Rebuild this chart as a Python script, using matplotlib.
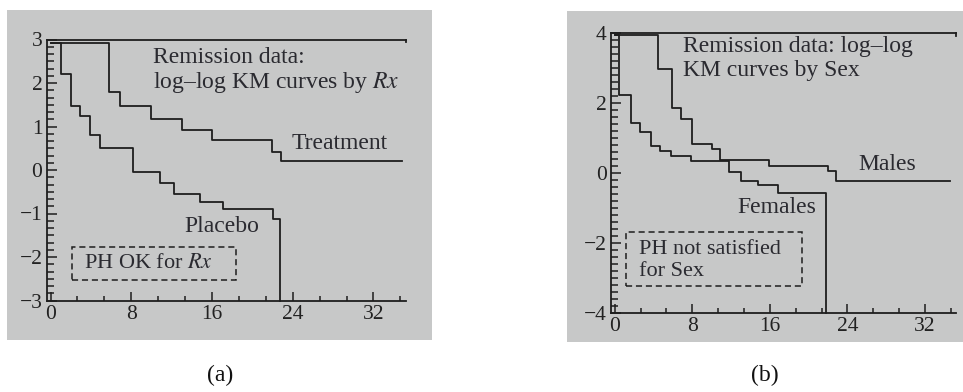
import matplotlib
matplotlib.use("Agg")
import matplotlib.pyplot as plt
from matplotlib.patches import Rectangle
from matplotlib.ticker import MultipleLocator
import numpy as np

plt.rcParams['font.family'] = ['Liberation Serif', 'DejaVu Serif']
plt.rcParams['mathtext.fontset'] = 'stix'

# ---------------- data ----------------
# panel (a): log-log KM curves by Rx
treat_t = [0, 5.8, 6.9, 10.0, 13.0, 16.0, 21.9, 22.8, 34.8]
treat_y = [2.93, 1.79, 1.46, 1.17, 0.92, 0.69, 0.42, 0.21, 0.21]
plac_t = [0, 1.0, 2.0, 2.95, 3.9, 4.9, 8.2, 10.8, 12.2, 14.8, 17.1, 22.0, 22.7]
plac_y = [2.93, 2.2, 1.46, 1.23, 0.80, 0.50, -0.05, -0.31, -0.55, -0.73, -0.90, -1.13, -3.0]

# panel (b): log-log KM curves by Sex
male_t = [0, 4.5, 5.9, 6.8, 8.0, 10.0, 10.9, 15.9, 22.0, 22.8, 34.6]
male_y = [3.95, 2.99, 1.87, 1.56, 0.85, 0.69, 0.38, 0.21, 0.08, -0.22, -0.22]
fem_t = [0, 0.45, 1.65, 2.6, 3.7, 4.7, 5.8, 7.9, 11.8, 13.0, 14.8, 16.8, 21.8]
fem_y = [3.95, 2.23, 1.45, 1.19, 0.78, 0.65, 0.49, 0.36, 0.03, -0.22, -0.33, -0.55, -4.0]

x_ticks = [0, 8, 16, 24, 32]
ya_ticks = [-3, -2, -1, 0, 1, 2, 3]
yb_ticks = [-4, -2, 0, 2, 4]

# ---------------- figure ----------------
W, H = 963, 392
fig = plt.figure(figsize=(W / 100, H / 100), dpi=100)
fig.patch.set_facecolor('white')

BG = '#c7c8c8'
INK = '#1e1e1e'


def px_rect(x0, y0, x1, y1):
    return [x0 / W, 1 - y1 / H, (x1 - x0) / W, (y1 - y0) / H]


# gray panel backgrounds on a background axes
bg = fig.add_axes([0, 0, 1, 1], zorder=-5)
bg.set_xlim(0, W)
bg.set_ylim(H, 0)
bg.axis('off')
for (x0, y0, x1, y1) in [(7, 10, 432, 340), (567, 11, 963, 342)]:
    bg.add_patch(Rectangle((x0, y0), x1 - x0, y1 - y0, facecolor=BG, edgecolor='none'))

axA = fig.add_axes(px_rect(46.5, 39.5, 405.7, 300.5), zorder=2)
axB = fig.add_axes(px_rect(610.8, 33.3, 956.0, 313.3), zorder=2)

LW = 1.3
for ax in (axA, axB):
    ax.set_facecolor('none')
    ax.set_xlim(-0.4, 35.2)
    ax.spines['right'].set_visible(False)
    for s in ('left', 'bottom', 'top'):
        ax.spines[s].set_linewidth(LW)
        ax.spines[s].set_color(INK)
    ax.xaxis.set_major_locator(MultipleLocator(8))
    ax.xaxis.set_minor_locator(MultipleLocator(8 / 3))
    ax.set_xticks(x_ticks)
    ax.tick_params(axis='both', which='both', direction='in', color=INK,
                   width=1.1, labelcolor='#222222', labelsize=15.5,
                   top=False, right=False)
    ax.tick_params(axis='x', which='major', length=6.5, pad=3)
    ax.tick_params(axis='x', which='minor', length=3.3)
    ax.tick_params(axis='y', which='major', length=7.5, pad=3)
    ax.tick_params(axis='y', which='minor', length=5)
    # small end mark on the top frame line
    ax.plot([1, 1], [1, 0.99], transform=ax.transAxes, color=INK, lw=LW, clip_on=False)

axA.set_ylim(-3, 3)
axA.set_yticks(ya_ticks)
axA.yaxis.set_minor_locator(MultipleLocator(1 / 6))
axB.set_ylim(-4, 4)
axB.set_yticks(yb_ticks)
axB.yaxis.set_minor_locator(MultipleLocator(0.2))

# curves
axA.step(treat_t, treat_y, where='post', color=INK, lw=LW, clip_on=False)
axA.step(plac_t, plac_y, where='post', color=INK, lw=LW, clip_on=False)
axB.step(male_t, male_y, where='post', color=INK, lw=LW, clip_on=False)
axB.step(fem_t, fem_y, where='post', color=INK, lw=LW, clip_on=False)

FS = 17
TC = '#2a2a30'
# panel (a) texts
axA.text(10.2, 2.575, 'Remission data:', fontsize=FS, color=TC, va='center', ha='left')
axA.text(10.2, 2.02, 'log–log KM curves by $Rx$', fontsize=FS, color=TC, va='center', ha='left')
axA.text(23.9, 0.61, 'Treatment', fontsize=FS, color=TC, va='center', ha='left')
axA.text(13.3, -1.30, 'Placebo', fontsize=FS, color=TC, va='center', ha='left')
axA.add_patch(Rectangle((2.13, -2.53), 18.4 - 2.13, 2.53 - 1.76, fill=False,
                        ls=(0, (4, 2.5)), lw=1.1, edgecolor=INK))
axA.text(3.28, -2.14, 'PH OK for $Rx$', fontsize=FS - 1, color=TC, va='center', ha='left')

# panel (b) texts
axB.text(7.0, 3.62, 'Remission data: log–log', fontsize=FS, color=TC, va='center', ha='left')
axB.text(7.0, 2.95, 'KM curves by Sex', fontsize=FS, color=TC, va='center', ha='left')
axB.text(25.1, 0.24, 'Males', fontsize=FS, color=TC, va='center', ha='left')
axB.text(12.64, -0.97, 'Females', fontsize=FS, color=TC, va='center', ha='left')
axB.add_patch(Rectangle((1.16, -3.22), 19.28 - 1.16, 3.22 - 1.67, fill=False,
                        ls=(0, (4, 2.5)), lw=1.1, edgecolor=INK))
axB.text(2.54, -2.19, 'PH not satisfied', fontsize=FS - 1, color=TC, va='center', ha='left')
axB.text(2.54, -2.81, 'for Sex', fontsize=FS - 1, color=TC, va='center', ha='left')

# sub-figure captions
fig.text(220 / W, 1 - 375 / H, '(a)', fontsize=17, ha='center', va='center', color='#111111')
fig.text(765 / W, 1 - 375 / H, '(b)', fontsize=17, ha='center', va='center', color='#111111')

fig.savefig('out.png', dpi=100, facecolor='white')
